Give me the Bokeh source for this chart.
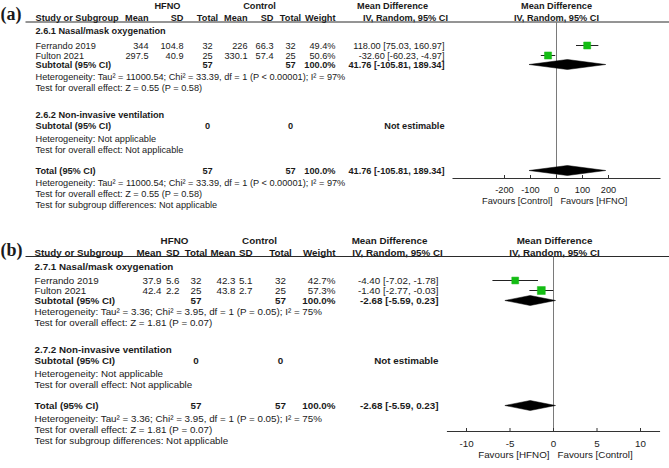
from bokeh.plotting import figure
from bokeh.models import Range1d
from bokeh.core.properties import value
from bokeh.embed import file_html
from bokeh.resources import INLINE

# ---------------- data ----------------
studies = ["Ferrando 2019", "Fulton 2021"]

a_label = "(a)"
a_group1 = "2.6.1 Nasal/mask oxygenation"
a_group2 = "2.6.2 Non-invasive ventilation"
a_hfno_mean = [344, 297.5]
a_hfno_sd = [104.8, 40.9]
a_hfno_n = [32, 25]
a_ctrl_mean = [226, 330.1]
a_ctrl_sd = [66.3, 57.4]
a_ctrl_n = [32, 25]
a_weight = [49.4, 50.6]
a_md = [118.00, -32.60]
a_lo = [75.03, -60.23]
a_hi = [160.97, -4.97]
a_pooled = [41.76, -105.81, 189.34]
a_het = "Heterogeneity: Tau\u00b2 = 11000.54; Chi\u00b2 = 33.39, df = 1 (P < 0.00001); I\u00b2 = 97%"
a_z = "Test for overall effect: Z = 0.55 (P = 0.58)"
a_ticks = [-200, -100, 0, 100, 200]
a_fav = ["Favours [Control]", "Favours [HFNO]"]

b_label = "(b)"
b_group1 = "2.7.1 Nasal/mask oxygenation"
b_group2 = "2.7.2 Non-invasive ventilation"
b_hfno_mean = [37.9, 42.4]
b_hfno_sd = [5.6, 2.2]
b_hfno_n = [32, 25]
b_ctrl_mean = [42.3, 43.8]
b_ctrl_sd = [5.1, 2.7]
b_ctrl_n = [32, 25]
b_weight = [42.7, 57.3]
b_md = [-4.40, -1.40]
b_lo = [-7.02, -2.77]
b_hi = [-1.78, -0.03]
b_pooled = [-2.68, -5.59, 0.23]
b_het = "Heterogeneity: Tau\u00b2 = 3.36; Chi\u00b2 = 3.95, df = 1 (P = 0.05); I\u00b2 = 75%"
b_z = "Test for overall effect: Z = 1.81 (P = 0.07)"
b_ticks = [-10, -5, 0, 5, 10]
b_fav = ["Favours [HFNO]", "Favours [Control]"]

na_het = "Heterogeneity: Not applicable"
na_z = "Test for overall effect: Not applicable"
na_sub = "Test for subgroup differences: Not applicable"

# ---------------- styling / layout ----------------
W, H = 669, 468
SANS = "Liberation Sans"
SERIF = "Liberation Serif"
INK = "#1a1a1a"
GREEN = "#14bd14"

p = figure(width=W, height=H, x_range=Range1d(0, W), y_range=Range1d(H, 0),
           x_axis_type=None, y_axis_type=None, toolbar_location=None,
           output_backend="svg", min_border=0)
p.outline_line_color = None
p.grid.visible = False
p.background_fill_color = "white"
p.border_fill_color = "white"

# forest-plot scales: value -> pixel via linear ranges over the same frame
A_ZERO, A_PPU, A_LIM = 556.0, 0.26, 400
B_ZERO, B_PPU, B_LIM = 553.0, 8.7, 12.25
p.extra_x_ranges = {
    "fa": Range1d((0 - A_ZERO) / A_PPU, (W - A_ZERO) / A_PPU),
    "fb": Range1d((0 - B_ZERO) / B_PPU, (W - B_ZERO) / B_PPU),
}


def txt(xs, ys, texts, align="left", bold=False, size="9px", font=SANS,
        rn=None, dx=0, color=INK):
    if not isinstance(texts, list):
        texts = [texts]
    n = len(texts)
    xs = xs if isinstance(xs, list) else [xs] * n
    ys = ys if isinstance(ys, list) else [ys] * n
    kw = {"x_range_name": rn} if rn else {}
    p.text(x=xs, y=ys, text=texts, text_align=align, text_baseline="middle",
           text_font=value(font), text_font_size=value(size),
           text_font_style="bold" if bold else "normal", text_color=color,
           x_offset=dx, **kw)


def fmt(v):
    return f"{v:g}"


def panel(d, c):
    fs = c["fs"]
    r = c["rows"]
    x = c["x"]
    # panel label
    txt(0, r["lab"], d["label"], bold=True, size=c["labfs"], font=SERIF)
    # header
    txt(x["hfno"], r["h1"], "HFNO", align="center", bold=True, size=fs)
    txt(x["ctrl"], r["h1"], "Control", align="center", bold=True, size=fs)
    txt(x["mdh"], r["h1"], "Mean Difference", align="center", bold=True, size=fs)
    txt(x["fh"], r["h1"], "Mean Difference", align="center", bold=True, size=fs)
    txt(x["left"], r["h2"], "Study or Subgroup", bold=True, size=fs)
    txt([x["mh"], x["sh"], x["mc"], x["sc"], x["w"]], r["h2"],
        ["Mean", "SD", "Mean", "SD", "Weight"], align="right", bold=True, size=fs)
    txt([x["nh"], x["nc"]], r["h2"], ["Total", "Total"], align="center", bold=True, size=fs)
    txt(x["ivh"], r["h2"], "IV, Random, 95% CI", align="center", bold=True, size=fs)
    txt(x["fh"], r["h2"], "IV, Random, 95% CI", align="center", bold=True, size=fs)
    p.segment(x0=[25], y0=[r["line"]], x1=[W], y1=[r["line"]], line_color="#2a2a2a", line_width=1)

    # group 1
    txt(x["left"], r["g1"], d["group1"], bold=True, size=fs)
    ys = [r["s1"], r["s2"]]
    txt(x["left"], ys, studies, size=fs)
    txt(x["mh"], ys, [fmt(v) for v in d["hm"]], align="right", size=fs)
    txt(x["sh"], ys, [fmt(v) for v in d["hs"]], align="right", size=fs)
    txt(x["nh"], ys, [fmt(v) for v in d["hn"]], align="center", size=fs)
    txt(x["mc"], ys, [fmt(v) for v in d["cm"]], align="right", size=fs)
    txt(x["sc"], ys, [fmt(v) for v in d["cs"]], align="right", size=fs)
    txt(x["nc"], ys, [fmt(v) for v in d["cn"]], align="center", size=fs)
    txt(x["w"], ys, [f"{w:.1f}%" for w in d["w"]], align="right", size=fs)
    txt(x["md"], ys, [f"{m:.2f} [{l:.2f}, {h:.2f}]" for m, l, h in zip(d["md"], d["lo"], d["hi"])],
        align="right", size=fs)
    pm, pl, ph = d["pooled"]
    pooled_txt = f"{pm:.2f} [{pl:.2f}, {ph:.2f}]"
    for key, label in (("sub", "Subtotal (95% CI)"), ("tot", "Total (95% CI)")):
        txt(x["left"], r[key], label, bold=True, size=fs)
        txt([x["nh"], x["nc"]], r[key], [str(sum(d["hn"])), str(sum(d["cn"]))], align="center", bold=True, size=fs)
        txt(x["w"], r[key], f"{sum(d['w']):.1f}%", align="right", bold=True, size=fs)
        txt(x["md"], r[key], pooled_txt, align="right", bold=True, size=fs)
    txt(x["left"], r["het"], d["het"], size=fs)
    txt(x["left"], r["z"], d["z"], size=fs)
    # group 2
    txt(x["left"], r["g2"], d["group2"], bold=True, size=fs)
    txt(x["left"], r["sub2"], "Subtotal (95% CI)", bold=True, size=fs)
    txt([x["nh"], x["nc"]], r["sub2"], ["0", "0"], align="center", bold=True, size=fs)
    txt(x["md"], r["sub2"], "Not estimable", align="right", bold=True, size=fs)
    txt(x["left"], r["het2"], na_het, size=fs)
    txt(x["left"], r["z2"], na_z, size=fs)
    # totals
    txt(x["left"], r["het3"], d["het"], size=fs)
    txt(x["left"], r["z3"], d["z"], size=fs)
    txt(x["left"], r["zsub"], na_sub, size=fs)

    # forest plot
    rn = c["rn"]
    lim = c["lim"]
    p.segment(x0=[0], y0=[r["line"]], x1=[0], y1=[r["axis"]], x_range_name=rn,
              line_color="#7a7a7a", line_width=1)
    p.segment(x0=[-lim], y0=[r["axis"]], x1=[lim], y1=[r["axis"]], x_range_name=rn,
              line_color="#333333", line_width=1)
    tk = d["ticks"]
    p.segment(x0=tk, y0=[r["axis"] - 3.5] * len(tk), x1=tk, y1=[r["axis"] + 0.5] * len(tk),
              x_range_name=rn, line_color="#333333", line_width=1)
    txt(tk, r["tick"], [str(t) for t in tk], align="center", size=fs, rn=rn)
    txt(0, r["fav"], d["fav"][0], align="right", size=fs, rn=rn, dx=-4)
    txt(0, r["fav"], d["fav"][1], align="left", size=fs, rn=rn, dx=4)
    # CIs and squares
    p.segment(x0=d["lo"], y0=ys, x1=d["hi"], y1=ys, x_range_name=rn, line_color="#222222", line_width=1)
    sizes = [c["sq"] * w ** 0.5 for w in d["w"]]
    p.rect(x=d["md"], y=ys, width=sizes, height=sizes, width_units="screen", height_units="screen",
           x_range_name=rn, fill_color=GREEN, line_color=GREEN, line_width=0.5)
    # diamonds
    hh = c["dh"]
    dx_ = [[pl, pm, ph, pm] for _ in (0, 1)]
    dy_ = [[r[k], r[k] - hh, r[k], r[k] + hh] for k in ("sub", "tot")]
    p.patches(xs=dx_, ys=dy_, x_range_name=rn, fill_color="black", line_color="black", line_width=0.5)


A = dict(label=a_label, group1=a_group1, group2=a_group2, hm=a_hfno_mean, hs=a_hfno_sd, hn=a_hfno_n,
         cm=a_ctrl_mean, cs=a_ctrl_sd, cn=a_ctrl_n, w=a_weight, md=a_md, lo=a_lo, hi=a_hi,
         pooled=a_pooled, het=a_het, z=a_z, ticks=a_ticks, fav=a_fav)
B = dict(label=b_label, group1=b_group1, group2=b_group2, hm=b_hfno_mean, hs=b_hfno_sd, hn=b_hfno_n,
         cm=b_ctrl_mean, cs=b_ctrl_sd, cn=b_ctrl_n, w=b_weight, md=b_md, lo=b_lo, hi=b_hi,
         pooled=b_pooled, het=b_het, z=b_z, ticks=b_ticks, fav=b_fav)

A_CFG = dict(fs="9.2px", labfs="18px", rn="fa", lim=A_LIM, sq=1.0, dh=5,
             x=dict(left=35, hfno=167, ctrl=259, mh=148, sh=183, nh=207, mc=247, sc=273, nc=290,
                    w=335, md=444, mdh=392, ivh=405, fh=556),
             rows=dict(lab=13, h1=5, h2=17.5, line=21.5, g1=30, s1=45, s2=55, sub=64, het=76,
                       z=87, g2=114, sub2=125, het2=138, z2=149, tot=170, het3=182, z3=193,
                       zsub=204, axis=178, tick=189, fav=200))
B_CFG = dict(fs="9.8px", labfs="18px", rn="fb", lim=B_LIM, sq=1.05, dh=5,
             x=dict(left=34, hfno=174, ctrl=259, mh=161, sh=179, nh=195.5, mc=235, sc=252, nc=280,
                    w=335, md=438, mdh=389, ivh=397, fh=554),
             rows=dict(lab=249, h1=240, h2=252, line=256, g1=266, s1=280, s2=290, sub=300,
                       het=311, z=322, g2=349, sub2=360, het2=373, z2=384, tot=405, het3=418,
                       z3=429, zsub=440, axis=431, tick=443, fav=454))

panel(A, A_CFG)
panel(B, B_CFG)

open("out.html", "w").write(file_html(p, INLINE, title="Forest plots"))
